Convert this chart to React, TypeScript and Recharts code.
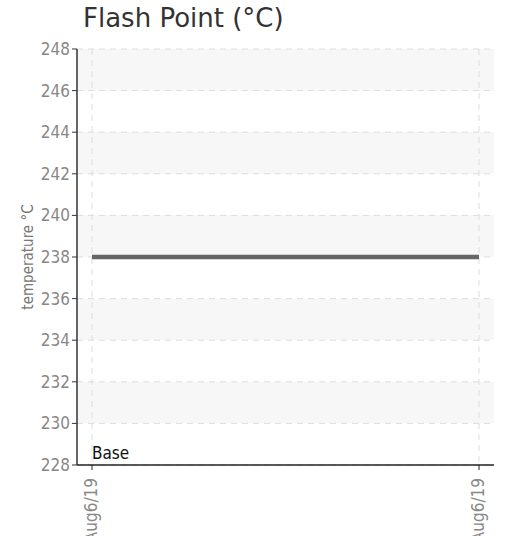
import { LineChart, Line, XAxis, YAxis, CartesianGrid, ReferenceLine } from 'recharts';

// valores
const fechas = ['Aug6/19', 'Aug6/19'];
const puntoInflamacion = [238, 238];
const ticksTemperatura = [228, 230, 232, 234, 236, 238, 240, 242, 244, 246, 248];
const nombreSerie = 'Base';

const datos = fechas.map((f, i) => ({ fecha: f, valor: puntoInflamacion[i] }));

const fuenteEstrecha = '"DejaVu Sans Condensed", sans-serif';

const TickFecha = ({ x, y, payload }: any) => (
  <text
    x={x}
    y={y}
    transform={`rotate(-90, ${x}, ${y})`}
    dx={-6}
    dy={5}
    textAnchor="end"
    fill="#888"
    fontSize={17}
    fontFamily={fuenteEstrecha}
  >
    {payload.value}
  </text>
);

export default function App() {
  return (
    <div style={{ position: 'absolute', left: 0, top: 0, width: 506, height: 536, background: '#fff' }}>
      <div
        style={{
          position: 'absolute',
          left: 83,
          top: 3,
          fontFamily: '"DejaVu Sans", sans-serif',
          fontSize: 26,
          lineHeight: '30px',
          color: '#333',
        }}
      >
        Flash Point (°C)
      </div>
      <LineChart width={506} height={536} data={datos} margin={{ top: 49, right: 12, left: 0, bottom: 0 }}>
        <CartesianGrid
          strokeDasharray="6 5"
          stroke="#ddd"
          horizontalFill={['#f7f7f7', '#ffffff']}
          syncWithTicks
        />
        <XAxis
          dataKey="fecha"
          padding={{ left: 15, right: 15 }}
          axisLine={{ stroke: '#222', strokeWidth: 1.5 }}
          tickLine={{ stroke: '#222' }}
          tickSize={5}
          interval={0}
          height={71}
          tick={<TickFecha />}
        />
        <YAxis
          domain={[228, 248]}
          ticks={ticksTemperatura}
          width={77}
          axisLine={{ stroke: '#333', strokeWidth: 1.5 }}
          tickLine={{ stroke: '#333' }}
          tickSize={5}
          tick={{ fill: '#888', fontSize: 17, fontFamily: fuenteEstrecha }}
          label={{
            value: 'temperature °C',
            angle: -90,
            position: 'insideLeft',
            offset: 28,
            textAnchor: 'middle',
            fill: '#777',
            fontSize: 15,
            fontFamily: fuenteEstrecha,
          }}
        />
        <ReferenceLine
          y={ticksTemperatura[0]}
          stroke="transparent"
          label={{
            value: nombreSerie,
            position: 'insideBottomLeft',
            offset: 6,
            dx: 9,
            fill: '#111',
            fontSize: 17,
            fontFamily: fuenteEstrecha,
          }}
        />
        <Line
          type="linear"
          dataKey="valor"
          stroke="#666"
          strokeWidth={4.5}
          dot={false}
          isAnimationActive={false}
        />
      </LineChart>
    </div>
  );
}
